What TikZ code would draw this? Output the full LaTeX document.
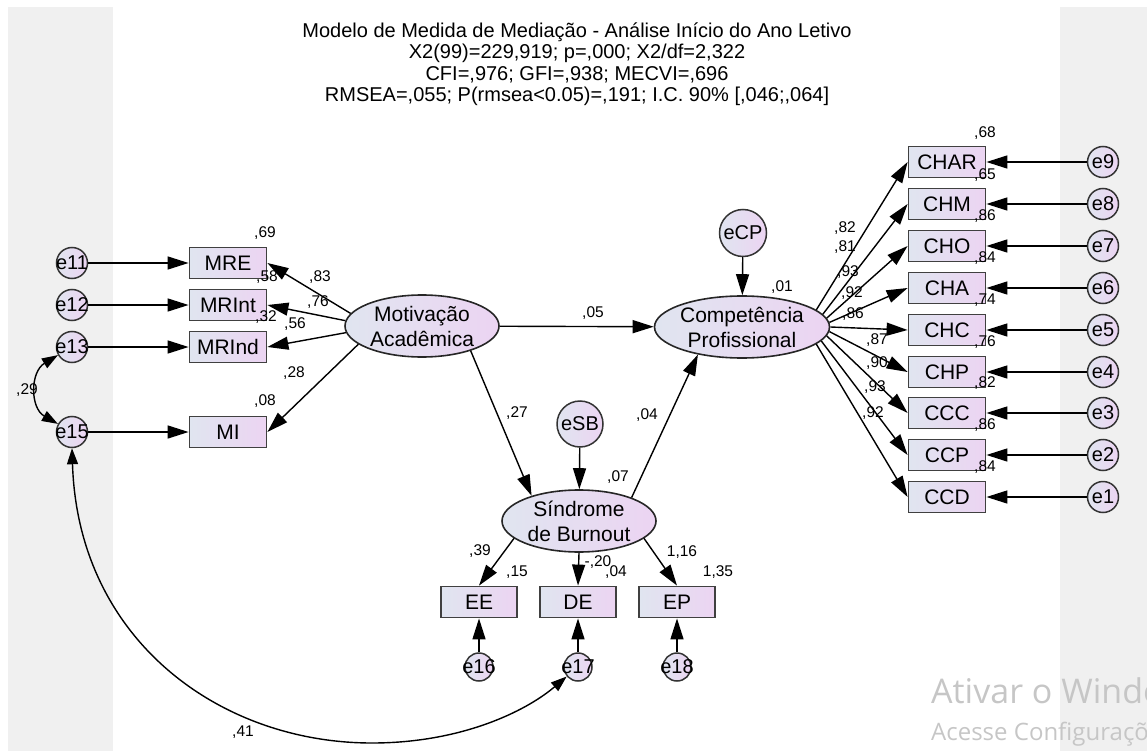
\documentclass[tikz,border=0pt]{standalone}
\usepackage{fontspec}
\setmainfont{Liberation Sans}
\newfontfamily\winfont{Open Sans}
\usetikzlibrary{arrows.meta,shapes.geometric}
\definecolor{varleft}{RGB}{224,229,240}
\definecolor{varright}{RGB}{236,212,242}
\definecolor{panel}{RGB}{240,240,240}
\definecolor{watermark}{RGB}{198,198,198}

\begin{document}
\begin{tikzpicture}[x=1pt,y=-1pt,
  every node/.style={font=\fontsize{21}{25}\selectfont},
  latent/.style={ellipse,draw=black!85,line width=1.6pt,left color=varleft,
    right color=varright,minimum width=154pt,minimum height=62pt,inner sep=0pt,
    align=center},
  indicator/.style={draw=black!75,line width=1.8pt,left color=varleft,
    right color=varright,minimum width=77pt,minimum height=31pt,inner sep=0pt},
  errvar/.style={circle,draw=black!80,line width=1.5pt,left color=varleft,
    right color=varright,minimum size=31pt,inner sep=0pt,
    font=\fontsize{20}{20}\selectfont},
  link/.style={line width=1.4pt,-{Triangle[length=21pt,width=13pt]}},
  covar/.style={line width=1.4pt,
    {Triangle[length=16pt,width=11pt]}-{Triangle[length=16pt,width=11pt]}},
  coef/.style={font=\fontsize{15.5}{16}\selectfont,inner sep=0pt}
]
  \useasboundingbox (0,0) rectangle (1147,751);
  \fill[panel] (8,7) rectangle (113,751);
  \fill[panel] (1060,7) rectangle (1147,751);

  \node[align=center,font=\fontsize{20}{21.5}\selectfont] (title) at (577,64)
    {Modelo de Medida de Mediação - Análise Início do Ano Letivo\\
     X2(99)=229,919; p=,000; X2/df=2,322\\
     CFI=,976; GFI=,938; MECVI=,696\\
     RMSEA=,055; P(rmsea<0.05)=,191; I.C. 90\% [,046;,064]};

  \node[latent] (MA) at (422,326) {Motivação\\Acadêmica};
  \node[latent] (CP) at (742,327) {Competência\\Profissional};
  \node[latent] (SB) at (579,521) {Síndrome\\de Burnout};
  \node[errvar,minimum size=47pt] (eCP) at (743,233) {eCP};
  \node[errvar,minimum size=46pt] (eSB) at (580,424) {eSB};

  \node[indicator] (MRE) at (228,263) {MRE};
  \node[indicator] (MRInt) at (228,305) {MRInt};
  \node[indicator] (MRInd) at (228,347) {MRInd};
  \node[indicator] (MI) at (228,432) {MI};
  \node[errvar] (e11) at (72,263) {\makebox[0pt]{e11}};
  \node[errvar] (e12) at (72,305) {\makebox[0pt]{e12}};
  \node[errvar] (e13) at (72,347) {\makebox[0pt]{e13}};
  \node[errvar] (e15) at (72,432) {\makebox[0pt]{e15}};

  \node[indicator] (CHAR) at (947,162) {CHAR};
  \node[indicator] (CHM) at (947,204) {CHM};
  \node[indicator] (CHO) at (947,246) {CHO};
  \node[indicator] (CHA) at (947,288) {CHA};
  \node[indicator] (CHC) at (947,330) {CHC};
  \node[indicator] (CHP) at (947,372) {CHP};
  \node[indicator] (CCC) at (947,413) {CCC};
  \node[indicator] (CCP) at (947,455) {CCP};
  \node[indicator] (CCD) at (947,497) {CCD};
  \node[errvar] (e9) at (1103,162) {\makebox[0pt]{e9}};
  \node[errvar] (e8) at (1103,204) {\makebox[0pt]{e8}};
  \node[errvar] (e7) at (1103,246) {\makebox[0pt]{e7}};
  \node[errvar] (e6) at (1103,288) {\makebox[0pt]{e6}};
  \node[errvar] (e5) at (1103,330) {\makebox[0pt]{e5}};
  \node[errvar] (e4) at (1103,372) {\makebox[0pt]{e4}};
  \node[errvar] (e3) at (1103,413) {\makebox[0pt]{e3}};
  \node[errvar] (e2) at (1103,455) {\makebox[0pt]{e2}};
  \node[errvar] (e1) at (1103,497) {\makebox[0pt]{e1}};

  \node[indicator,minimum width=76pt] (EE) at (479,602) {EE};
  \node[indicator,minimum width=76pt] (DE) at (578,602) {DE};
  \node[indicator,minimum width=76pt] (EP) at (677,602) {EP};
  \node[errvar,minimum size=28pt] (e16) at (479,667) {\makebox[0pt]{e16}};
  \node[errvar,minimum size=28pt] (e17) at (578,667) {\makebox[0pt]{e17}};
  \node[errvar,minimum size=28pt] (e18) at (677,667) {\makebox[0pt]{e18}};

  \draw[link] (e11) -- (MRE);
  \draw[link] (e12) -- (MRInt);
  \draw[link] (e13) -- (MRInd);
  \draw[link] (e15) -- (MI);
  \draw[link] (MA.170) -- (MRE.east);
  \draw[link] (MA.176) -- (MRInt.east);
  \draw[link] (MA.185) -- (MRInd.east);
  \draw[link] (MA.196) -- (MI.east);
  \draw[covar] (e13.-150) .. controls (30,372) and (30,408) .. (e15.150);
  \draw[covar] (e15.south) .. controls (78,640) and (220,743) .. (372,743)
    .. controls (460,743) and (525,712) .. (e17.-140);

  \draw[link] (MA) -- (CP);
  \draw[link] (MA.-27) -- (SB.152);
  \draw[link] (SB.24) -- (CP.-148);
  \draw[link] (eCP) -- (CP);
  \draw[link] (eSB) -- (SB);

  \draw[link] (CP.13) -- (CHAR.west);
  \draw[link] (CP.9.7) -- (CHM.west);
  \draw[link] (CP.6.4) -- (CHO.west);
  \draw[link] (CP.3.1) -- (CHA.west);
  \draw[link] (CP.-0.2) -- (CHC.west);
  \draw[link] (CP.-3.5) -- (CHP.west);
  \draw[link] (CP.-6.8) -- (CCC.west);
  \draw[link] (CP.-10.1) -- (CCP.west);
  \draw[link] (CP.-13.4) -- (CCD.west);
  \draw[link] (e9) -- (CHAR);
  \draw[link] (e8) -- (CHM);
  \draw[link] (e7) -- (CHO);
  \draw[link] (e6) -- (CHA);
  \draw[link] (e5) -- (CHC);
  \draw[link] (e4) -- (CHP);
  \draw[link] (e3) -- (CCC);
  \draw[link] (e2) -- (CCP);
  \draw[link] (e1) -- (CCD);

  \draw[link] (SB.-165) -- (EE.north);
  \draw[link] (SB.south) -- (DE.north);
  \draw[link] (SB.-15) -- (EP.north);
  \draw[link] (e16) -- (EE);
  \draw[link] (e17) -- (DE);
  \draw[link] (e18) -- (EP);

  \node[coef] (r-mre) at (265,233) {,69};
  \node[coef] (r-mrint) at (267,277) {,58};
  \node[coef] (r-mrind) at (266,317) {,32};
  \node[coef] (r-mi) at (265,401) {,08};
  \node[coef] (w-mre) at (320,277) {,83};
  \node[coef] (w-mrint) at (318,302) {,76};
  \node[coef] (w-mrind) at (295,324) {,56};
  \node[coef] (w-mi) at (294,373) {,28};
  \node[coef] (w-macp) at (593,313) {,05};
  \node[coef] (w-masb) at (517,413) {,27};
  \node[coef] (w-sbcp) at (647,415) {,04};
  \node[coef] (r-sb) at (618,477) {,07};
  \node[coef] (r-cp) at (782,287) {,01};
  \node[coef] (w-ee) at (480,551) {,39};
  \node[coef] (r-ee) at (517,572) {,15};
  \node[coef] (w-de) at (598,562) {-,20};
  \node[coef] (r-de) at (616,572) {,04};
  \node[coef] (w-ep) at (682,552) {1,16};
  \node[coef] (r-ep) at (718,572) {1,35};
  \node[coef] (c-e13) at (27,390) {,29};
  \node[coef] (c-e17) at (243,732) {,41};

  \node[coef] (r-char) at (985,133) {,68};
  \node[coef] (r-chm) at (985,175) {,65};
  \node[coef] (r-cho) at (985,216) {,86};
  \node[coef] (r-cha) at (985,258) {,84};
  \node[coef] (r-chc) at (985,300) {,74};
  \node[coef] (r-chp) at (985,342) {,76};
  \node[coef] (r-ccc) at (985,383) {,82};
  \node[coef] (r-ccp) at (985,425) {,86};
  \node[coef] (r-ccd) at (985,467) {,84};
  \node[coef] (w-char) at (845,228) {,82};
  \node[coef] (w-chm) at (845,247) {,81};
  \node[coef] (w-cho) at (848,272) {,93};
  \node[coef] (w-cha) at (852,293) {,92};
  \node[coef] (w-chc) at (853,314) {,86};
  \node[coef] (w-chp) at (877,340) {,87};
  \node[coef] (w-ccc) at (877,363) {,90};
  \node[coef] (w-ccp) at (875,387) {,93};
  \node[coef] (w-ccd) at (873,413) {,92};

  \begin{scope}
    \clip (0,0) rectangle (1147,751);
    \node[anchor=base west,text=watermark,inner sep=0pt,
      font=\winfont\fontsize{34}{34}\selectfont] (wm1) at (931,703)
      {Ativar o Windows};
    \node[anchor=base west,text=watermark,inner sep=0pt,
      font=\winfont\fontsize{24}{24}\selectfont] (wm2) at (931,740)
      {Acesse Configurações};
  \end{scope}
\end{tikzpicture}
\end{document}
